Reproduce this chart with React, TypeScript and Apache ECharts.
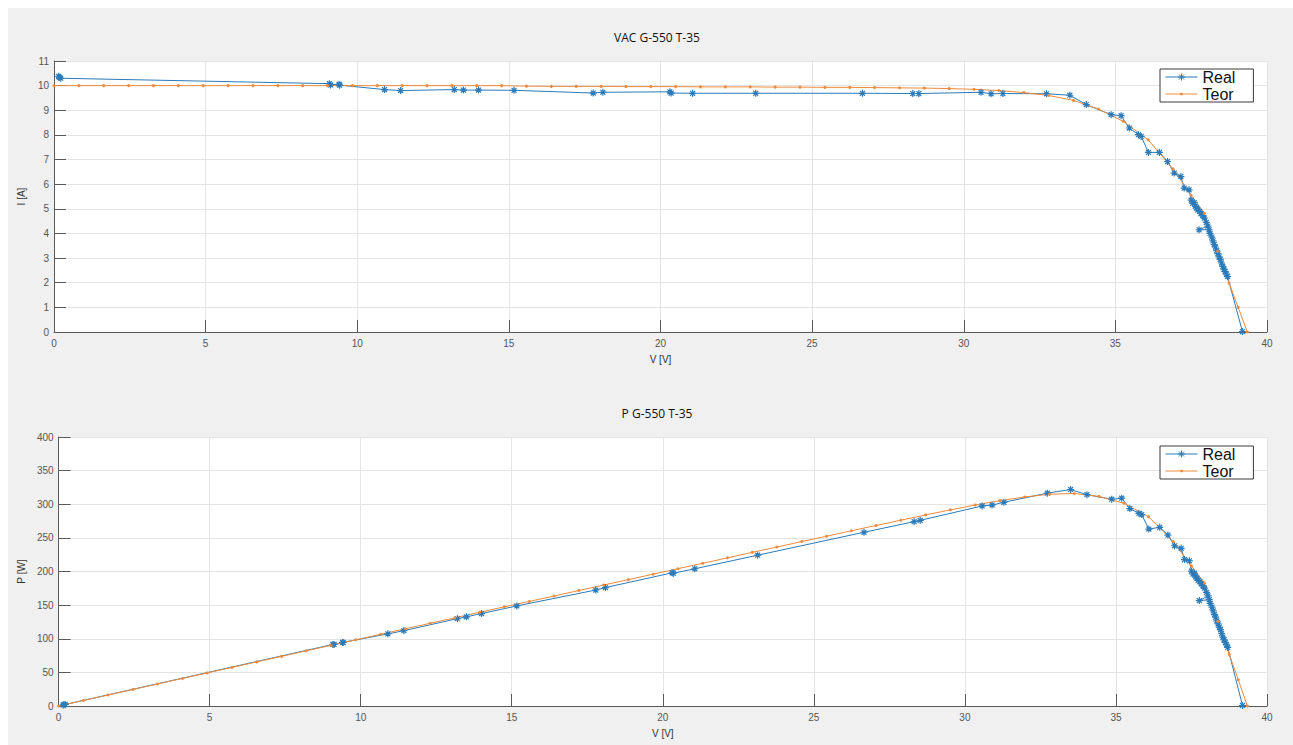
import React, { useEffect, useRef } from "react";
import * as echarts from "echarts";

// ---------- data ----------
const xTicks = [0, 5, 10, 15, 20, 25, 30, 35, 40];

const realV = [
  0.15, 0.18, 0.22, 9.08, 9.12, 9.4, 9.42, 10.9, 11.43, 13.2, 13.5, 14.0, 15.17,
  17.78, 18.1, 20.31, 20.35, 21.06, 23.14, 26.66, 28.32, 28.52, 30.57, 30.9, 31.29,
  32.73, 33.5, 34.04, 34.86, 35.19, 35.46, 35.76, 35.85, 36.09, 36.45, 36.72, 36.94,
  37.16, 37.27, 37.43, 37.5, 37.55, 37.6, 37.64, 37.68, 37.72, 37.78, 37.82, 37.88,
  37.93, 38.0, 38.05, 37.76, 38.09, 38.12, 38.18, 38.22, 38.26, 38.3, 38.34, 38.38,
  38.42, 38.46, 38.5, 38.54, 38.58, 38.62, 38.66, 38.7, 39.19,
];
const realI = [
  10.38, 10.34, 10.3, 10.08, 10.03, 10.06, 10.02, 9.84, 9.8, 9.84, 9.82, 9.82, 9.81,
  9.7, 9.73, 9.75, 9.7, 9.69, 9.69, 9.69, 9.68, 9.68, 9.73, 9.67, 9.68,
  9.67, 9.61, 9.23, 8.82, 8.78, 8.28, 8.01, 7.94, 7.29, 7.29, 6.92, 6.45,
  6.31, 5.84, 5.77, 5.35, 5.22, 5.25, 5.1, 5.05, 4.95, 4.9, 4.8, 4.72,
  4.62, 4.45, 4.3, 4.15, 4.15, 4.0, 3.85, 3.7, 3.55, 3.45, 3.3, 3.18,
  3.05, 2.95, 2.8, 2.66, 2.55, 2.45, 2.35, 2.25, 0.02,
];

const teorV = [
  0, 0.82, 1.64, 2.46, 3.28, 4.1, 4.92, 5.74, 6.56, 7.38, 8.2, 9.02, 9.84, 10.66,
  11.48, 12.3, 13.12, 13.94, 14.76, 15.58, 16.4, 17.22, 18.04, 18.86, 19.68, 20.5,
  21.32, 22.14, 22.96, 23.78, 24.6, 25.42, 26.24, 27.06, 27.88, 28.7, 29.52, 30.34,
  31.16, 31.98, 32.8, 33.62, 34.44, 35.26, 36.08, 36.9, 37.5, 37.93, 38.37, 38.75,
  39.05, 39.35,
];
const teorI = [
  10.0, 10.0, 10.0, 10.0, 10.0, 10.0, 10.0, 10.0, 10.0, 10.0, 10.0, 10.0, 10.0, 10.0,
  10.0, 10.0, 10.0, 10.0, 10.0, 9.98, 9.97, 9.97, 9.97, 9.96, 9.96, 9.96,
  9.95, 9.95, 9.95, 9.94, 9.94, 9.93, 9.93, 9.92, 9.91, 9.9, 9.88, 9.85,
  9.8, 9.72, 9.6, 9.4, 9.05, 8.55, 7.8, 6.62, 5.55, 4.82, 3.28, 1.98,
  1.0, 0.0,
];

const titles = ["VAC G-550 T-35", "P G-550 T-35"];
const seriesNames = ["Real", "Teor"];

// ---------- styling ----------
const BLUE = "#2b7bba";
const ORANGE = "#ee8a3c";
const AXIS = "#5a5a5a";
const GRIDC = "#e4e4e4";
const STAR = "path://M5 0L5 10M0 5L10 5M1.5 1.5L8.5 8.5M8.5 1.5L1.5 8.5";
const STAR_ICON = "path://M0 5L32 5M16 1.5L16 8.5M12.5 5L19.5 5M13.5 2.5L18.5 7.5M18.5 2.5L13.5 7.5";
const DOT_ICON = "path://M0 5L32 5M15 5A1 1 0 1 0 17 5A1 1 0 1 0 15 5Z";
const FONT = "'Liberation Sans', Arial, sans-serif";

export default function App() {
  const ref = useRef<HTMLDivElement>(null);

  useEffect(() => {
    document.documentElement.style.overflow = "hidden";
    document.body.style.overflow = "hidden";
    const chart = echarts.init(ref.current!, undefined, { renderer: "svg" });

    const realTop = realV.map((v, i) => [v, realI[i]]);
    const teorTop = teorV.map((v, i) => [v, teorI[i]]);
    const realBot = realV.map((v, i) => [v, +(v * realI[i]).toFixed(2)]);
    const teorBot = teorV.map((v, i) => [v, +(v * teorI[i]).toFixed(2)]);

    const xAxis = (gi: number) => ({
      type: "value",
      gridIndex: gi,
      min: xTicks[0],
      max: xTicks[xTicks.length - 1],
      interval: 5,
      name: "V [V]",
      nameLocation: "middle",
      nameGap: 22,
      nameTextStyle: { fontSize: 10, color: "#333", fontFamily: FONT },
      axisLine: { show: true, lineStyle: { color: AXIS, width: 1 } },
      axisTick: { show: true, inside: true, length: 12, lineStyle: { color: AXIS } },
      axisLabel: { fontSize: 10, color: "#555", margin: 6, fontFamily: FONT },
      splitLine: { show: true, lineStyle: { color: GRIDC, width: 1 } },
    });
    const yAxis = (gi: number, max: number, interval: number, name: string) => ({
      type: "value",
      gridIndex: gi,
      min: 0,
      max,
      interval,
      name,
      nameLocation: "middle",
      nameGap: 28,
      nameTextStyle: { fontSize: 10, color: "#333", fontFamily: FONT },
      axisLine: { show: true, lineStyle: { color: AXIS, width: 1 } },
      axisTick: { show: true, inside: true, length: 12, lineStyle: { color: AXIS } },
      axisLabel: { fontSize: 10, color: "#555", margin: 5, fontFamily: FONT },
      splitLine: { show: true, lineStyle: { color: GRIDC, width: 1 } },
    });

    const realSeries = (xi: number, data: number[][]) => ({
      name: seriesNames[0],
      type: "line",
      xAxisIndex: xi,
      yAxisIndex: xi,
      data,
      symbol: STAR,
      symbolSize: 7,
      lineStyle: { color: BLUE, width: 1 },
      itemStyle: { color: BLUE, borderColor: BLUE, borderWidth: 1.2 },
      emphasis: { disabled: true },
    });
    const teorSeries = (xi: number, data: number[][]) => ({
      name: seriesNames[1],
      type: "line",
      xAxisIndex: xi,
      yAxisIndex: xi,
      data,
      symbol: "circle",
      symbolSize: 3,
      lineStyle: { color: ORANGE, width: 1 },
      itemStyle: { color: ORANGE, borderWidth: 0 },
      emphasis: { disabled: true },
    });

    const legend = (top: number) => ({
      data: [
        { name: seriesNames[0], icon: STAR_ICON, itemStyle: { color: BLUE, borderColor: BLUE, borderWidth: 1 } },
        { name: seriesNames[1], icon: DOT_ICON, itemStyle: { color: ORANGE, borderColor: ORANGE, borderWidth: 1 } },
      ],
      orient: "vertical",
      left: 1152,
      top,
      itemWidth: 32,
      itemHeight: 10,
      itemGap: 1,
      padding: [0, 18, 0, 5],
      backgroundColor: "#fff",
      borderColor: "#3a3a3a",
      borderWidth: 1,
      selectedMode: false,
      textStyle: { fontSize: 16, color: "#111", fontFamily: FONT, lineHeight: 15 },
    });

    chart.setOption({
      animation: false,
      backgroundColor: "#f0f0f0",
      grid: [
        { left: 40, top: 53, width: 1219, height: 271, show: true, backgroundColor: "#fff", borderWidth: 0 },
        { left: 40, top: 429, width: 1219, height: 269, show: true, backgroundColor: "#fff", borderWidth: 0 },
      ],
      xAxis: [xAxis(0), xAxis(1)],
      yAxis: [yAxis(0, 11, 1, "I [A]"), yAxis(1, 400, 50, "P [W]")],
      legend: [legend(61), legend(438)],
      graphic: [
        {
          type: "text",
          x: 649,
          y: 29,
          style: { text: titles[0], align: "center", verticalAlign: "middle", font: "12px 'Open Sans', sans-serif", fill: "#111" },
        },
        {
          type: "text",
          x: 649,
          y: 405,
          style: { text: titles[1], align: "center", verticalAlign: "middle", font: "12px 'Open Sans', sans-serif", fill: "#111" },
        },
      ],
      series: [realSeries(0, realTop), teorSeries(0, teorTop), realSeries(1, realBot), teorSeries(1, teorBot)],
    });

    return () => chart.dispose();
  }, []);

  return (
    <div
      ref={ref}
      style={{ position: "absolute", left: 8, top: 8, width: 1300, height: 745 }}
    />
  );
}
